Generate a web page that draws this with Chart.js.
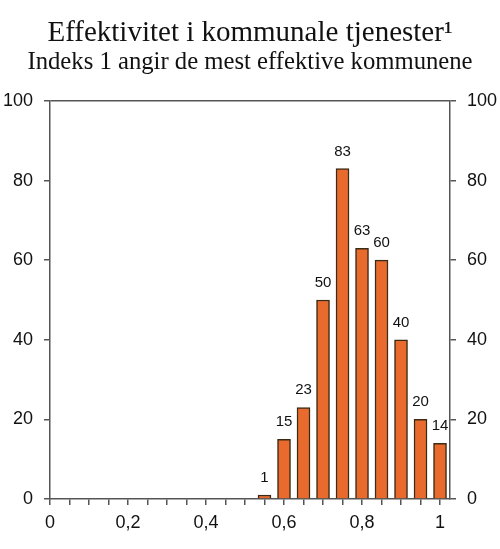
<!DOCTYPE html>
<html>
<head>
<meta charset="utf-8">
<script src="https://cdn.jsdelivr.net/npm/chart.js@4/dist/chart.umd.min.js"></script>
<style>
  body { margin: 0; background: #fff; }
  #wrap { width: 500px; height: 549px; }
</style>
</head>
<body>
<div id="wrap"><canvas id="effekt"></canvas></div>
<script>
// indeks (midtpunkt for hver gruppe) og antall kommuner
var indeks = [0.55, 0.6, 0.65, 0.7, 0.75, 0.8, 0.85, 0.9, 0.95, 1.0];
var antall = [1, 15, 23, 50, 83, 63, 60, 40, 20, 14];

// akser
var xTicks = [0, 0.05, 0.1, 0.15, 0.2, 0.25, 0.3, 0.35, 0.4, 0.45, 0.5, 0.55, 0.6, 0.65, 0.7, 0.75, 0.8, 0.85, 0.9, 0.95, 1.0];
var xLabelValues = [0, 0.2, 0.4, 0.6, 0.8, 1.0];
var xLabels = ['0', '0,2', '0,4', '0,6', '0,8', '1'];
var yTicks = [0, 20, 40, 60, 80, 100];

var axisColor = '#555555';
var tickFont = { family: 'Liberation Sans, Arial, sans-serif', size: 18 };

// tall over søylene
var verdiEtiketter = {
    id: 'verdiEtiketter',
    afterDatasetsDraw: function(chart) {
        var ctx = chart.ctx;
        var meta = chart.getDatasetMeta(0);
        ctx.save();
        ctx.font = '15px "Liberation Sans", Arial, sans-serif';
        ctx.fillStyle = '#111';
        ctx.textAlign = 'center';
        ctx.textBaseline = 'alphabetic';
        meta.data.forEach(function(bar, i) {
            ctx.fillText(antall[i], bar.x, bar.y - 13);
        });
        ctx.restore();
    }
};

var chart = new Chart(document.getElementById('effekt'), {
    type: 'bar',
    data: {
        datasets: [{
            data: indeks.map(function(x, i) { return { x: x, y: antall[i] }; }),
            backgroundColor: '#E96A2D',
            borderColor: '#3C2A14',
            borderWidth: 1.5,
            borderSkipped: 'bottom',
            barThickness: 13
        }]
    },
    options: {
        responsive: true,
        maintainAspectRatio: false,
        animation: false,
        layout: { padding: 0 },
        plugins: {
            legend: { display: false },
            tooltip: { enabled: false },
            title: {
                display: true,
                text: 'Effektivitet i kommunale tjenester\u00B9',
                font: { family: 'Liberation Serif, Times New Roman, serif', size: 29, weight: 'normal', lineHeight: 1.0 },
                color: '#111',
                padding: { top: 18.5, bottom: 0 }
            },
            subtitle: {
                display: true,
                text: 'Indeks 1 angir de mest effektive kommunene',
                font: { family: 'Liberation Serif, Times New Roman, serif', size: 24.7, weight: 'normal', lineHeight: 1.0 },
                color: '#111',
                padding: { top: 3, bottom: 25.8 }
            }
        },
        scales: {
            x: {
                type: 'linear',
                min: 0,
                max: 1.0256,
                offset: false,
                afterBuildTicks: function(scale) {
                    scale.ticks = xTicks.map(function(v) { return { value: v }; });
                },
                afterFit: function(scale) { scale.height = 50; },
                ticks: {
                    autoSkip: false,
                    maxRotation: 0,
                    padding: 7,
                    color: '#111',
                    font: tickFont,
                    callback: function(v) {
                        var k = xLabelValues.findIndex(function(t) { return Math.abs(t - v) < 1e-6; });
                        return k >= 0 ? xLabels[k] : '';
                    }
                },
                grid: { offset: false, drawOnChartArea: false, tickLength: 6, color: axisColor, lineWidth: 1.5 },
                border: { color: axisColor, width: 1.5 }
            },
            y: {
                position: 'left',
                min: 0,
                max: 100,
                afterBuildTicks: function(scale) {
                    scale.ticks = yTicks.map(function(v) { return { value: v }; });
                },
                afterFit: function(scale) { scale.width = 50; },
                ticks: { padding: 11, color: '#111', font: tickFont },
                grid: {
                    tickLength: 6,
                    lineWidth: 1.5,
                    tickColor: axisColor,
                    color: function(c) { return c.tick && c.tick.value === 100 ? axisColor : 'rgba(0,0,0,0)'; }
                },
                border: { color: axisColor, width: 1.5 }
            },
            y2: {
                position: 'right',
                min: 0,
                max: 100,
                afterBuildTicks: function(scale) {
                    scale.ticks = yTicks.map(function(v) { return { value: v }; });
                },
                afterFit: function(scale) { scale.width = 50; },
                ticks: { padding: 11, color: '#111', font: tickFont },
                grid: { drawOnChartArea: false, tickLength: 6, color: axisColor, lineWidth: 1.5 },
                border: { color: axisColor, width: 1.5 }
            }
        }
    },
    plugins: [verdiEtiketter]
});
</script>
</body>
</html>
